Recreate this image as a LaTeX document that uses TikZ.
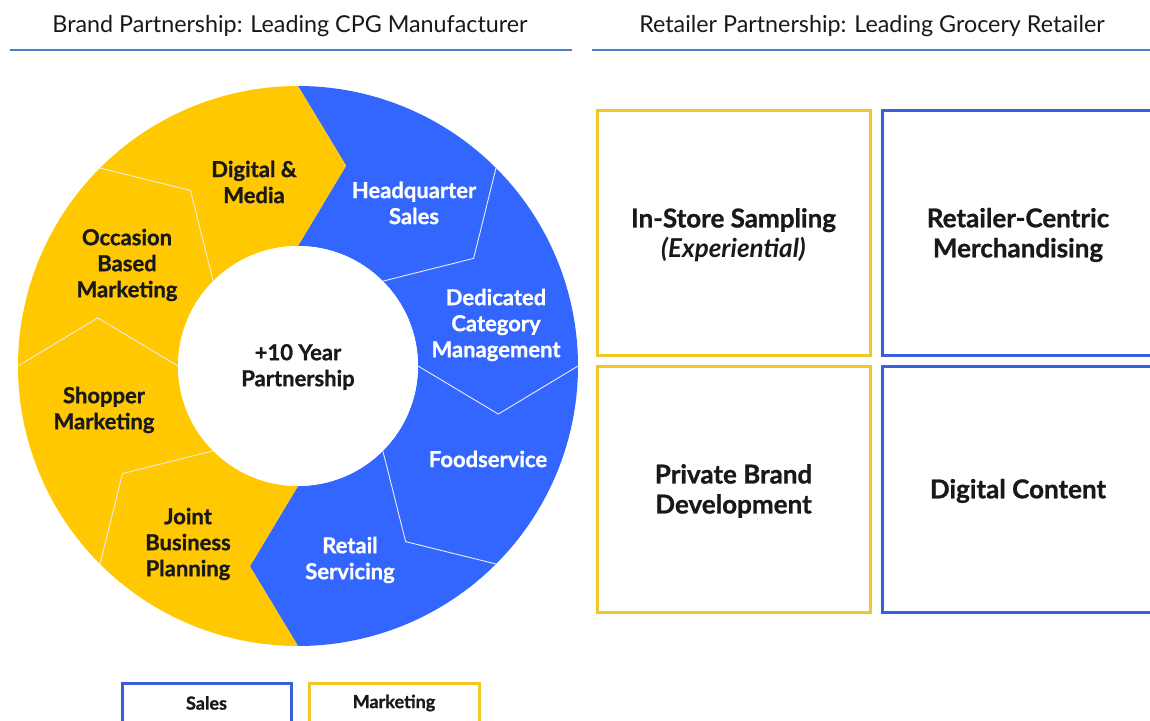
\documentclass[tikz,border=0pt]{standalone}
\usepackage{fontspec}
\setmainfont{Lato}[BoldFeatures={FakeBold=1}]
\usepackage{tikz}
\usetikzlibrary{calc,positioning}

\definecolor{ringyellow}{RGB}{255,200,0}
\definecolor{ringblue}{RGB}{51,102,255}
\definecolor{boxyellow}{RGB}{242,200,40}
\definecolor{boxblue}{RGB}{58,95,220}
\definecolor{headline}{RGB}{74,126,192}
\definecolor{darktext}{RGB}{25,25,25}

\tikzset{
  seglabel/.style={align=center,font=\bfseries\fontsize{22}{26}\selectfont},
  boxtext/.style={align=center,color=darktext,font=\bfseries\fontsize{26}{30}\selectfont},
  headtext/.style={color=darktext,font=\fontsize{23.3}{27}\selectfont},
  keytext/.style={color=darktext,font=\bfseries\fontsize{18}{21}\selectfont},
}

\begin{document}
\begin{tikzpicture}[x=1pt,y=1pt]
% ==========================================
\useasboundingbox (0,0) rectangle (1150,720);
\clip (0,0) rectangle (1150,720);
%
% headers
\node (hbrand) at (290,694) [headtext] {Brand Partnership: Leading CPG Manufacturer};
\node (hretail) at (872,694) [headtext] {Retailer Partnership: Leading Grocery Retailer};
\draw[headline,line width=2.5pt] (10,670) -- (572,670);
\draw[headline,line width=2.5pt] (592,670) -- (1150,670);
%
% ring of chevrons
\begin{scope}[shift={(298,354)}]
\foreach \k/\col in {0/ringblue,1/ringblue,2/ringblue,3/ringblue,4/ringyellow,5/ringyellow,6/ringyellow,7/ringyellow}{
  \pgfmathsetmacro\a{90-45*\k}
  \pgfmathsetmacro\b{\a-45}
  \pgfmathsetmacro\ta{\a-13.5}
  \pgfmathsetmacro\tb{\b-13.5}
  \fill[\col] (\a:280pt) arc[start angle=\a,end angle=\b,radius=280pt]
     -- (\tb:206pt) -- (\b:120pt)
     arc[start angle=\b,end angle=\a,radius=120pt]
     -- (\ta:206pt) -- cycle;
}
% thin seams
\foreach \s in {45,0,-45,-135,180,135}{
  \pgfmathsetmacro\ts{\s-13.5}
  \draw[white!85!gray,line width=0.9pt] (\s:280pt) -- (\ts:206pt) -- (\s:120pt);
}
\fill[white] (0,0) circle (120pt);
\end{scope}
%
\node (centre) at (298,353) [seglabel,color=darktext] {+10 Year\\Partnership};
\node (hqsales) at (414,517) [seglabel,color=white] {Headquarter\\Sales};
\node (catman) at (496,395) [seglabel,color=white] {Dedicated\\Category\\Management};
\node (fsvc) at (488,261) [seglabel,color=white] {Foodservice};
\node (rsvc) at (350,160) [seglabel,color=white] {Retail\\Servicing};
\node (jbp) at (188,176) [seglabel,color=darktext] {Joint\\Business\\Planning};
\node (shopper) at (104,310) [seglabel,color=darktext] {Shopper\\Marketing};
\node (occasion) at (127,455) [seglabel,color=darktext] {Occasion\\Based\\Marketing};
\node (digital) at (254,538) [seglabel,color=darktext] {Digital \&\\Media};
%
% retailer boxes
\draw[boxyellow,line width=3pt] (597,364) rectangle (870,609);
\node (sampling) at (733.5,485) [boxtext] {In-Store Sampling\\\textit{(Experiential)}};
%
\draw[boxblue,line width=3pt] (882,364) rectangle (1170,609);
\node (merch) at (1018,485) [boxtext] {Retailer-Centric\\Merchandising};
%
\draw[boxyellow,line width=3pt] (597,108) rectangle (870,353);
\node (privbrand) at (733.5,229) [boxtext] {Private Brand\\Development};
%
\draw[boxblue,line width=3pt] (882,108) rectangle (1170,353);
\node (content) at (1018,229) [boxtext] {Digital Content};
%
% legend
\draw[boxblue,line width=3pt] (122,37) rectangle (291,-20);
\node (ksales) at (206.5,17) [keytext] {Sales};
\draw[boxyellow,line width=3pt] (309,37) rectangle (479,-20);
\node (kmarket) at (394,17) [keytext] {Marketing};
% =============================================
\end{tikzpicture}
\end{document}
